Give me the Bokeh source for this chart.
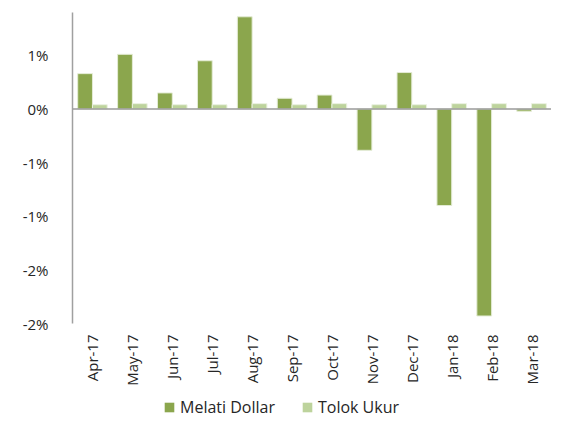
from math import pi
from bokeh.plotting import figure
from bokeh.layouts import column
from bokeh.models import ColumnDataSource, FactorRange, Range1d, Span, Legend, LegendItem, FixedTicker
from bokeh.transform import dodge
from bokeh.embed import file_html
from bokeh.resources import INLINE

months = ["Apr-17", "May-17", "Jun-17", "Jul-17", "Aug-17", "Sep-17",
          "Oct-17", "Nov-17", "Dec-17", "Jan-18", "Feb-18", "Mar-18"]
melati = [0.33, 0.51, 0.15, 0.45, 0.86, 0.10, 0.13, -0.385, 0.34, -0.90, -1.93, -0.02]
tolok = [0.04, 0.05, 0.04, 0.04, 0.05, 0.04, 0.05, 0.04, 0.04, 0.05, 0.05, 0.05]
y_ticks = [0.5, 0.0, -0.5, -1.0, -1.5, -2.0]
y_tick_labels = ["1%", "0%", "-1%", "-1%", "-2%", "-2%"]
series_names = ["Melati Dollar", "Tolok Ukur"]
series_cols = ["melati", "tolok"]
series_colors = ["#8BA64D", "#BDD39C"]

src = ColumnDataSource(dict(month=months, melati=melati, tolok=tolok))

FONT = "Open Sans"
TXT = "#262626"

p = figure(x_range=FactorRange(*months), y_range=Range1d(-2.0, 0.9),
           width=551, height=388,
           output_backend="svg", toolbar_location=None)
p.min_border_left = 72
p.min_border_right = 0
p.min_border_top = 12
p.min_border_bottom = 0
p.outline_line_color = None
p.grid.visible = False
p.background_fill_color = "white"

p.vbar(x=dodge("month", -0.185, range=p.x_range), top="melati", width=0.37,
       source=src, fill_color=series_colors[0], line_color="#E4ECD6", line_width=1)
p.vbar(x=dodge("month", 0.185, range=p.x_range), top="tolok", width=0.37,
       source=src, fill_color=series_colors[1], line_color="#EAF1E0", line_width=1)

p.add_layout(Span(location=0, dimension="width", line_color="#9A9A9A", line_width=1.5))

ya = p.yaxis[0]
ya.ticker = FixedTicker(ticks=y_ticks)
ya.major_label_overrides = {v: s for v, s in zip(y_ticks, y_tick_labels)}
ya.axis_line_color = "#A0A0A0"
ya.axis_line_width = 1.5
ya.major_tick_line_color = None
ya.minor_tick_line_color = None
ya.major_label_text_font = FONT
ya.major_label_text_font_size = "15px"
ya.major_label_text_color = TXT
ya.major_label_standoff = 18

xa = p.xaxis[0]
xa.axis_line_color = None
xa.major_tick_line_color = None
xa.minor_tick_line_color = None
xa.major_tick_out = 0
xa.major_tick_in = 0
xa.major_label_orientation = pi / 2
xa.major_label_text_font = FONT
xa.major_label_text_font_size = "15px"
xa.major_label_text_color = TXT
xa.major_label_standoff = 11

# legend strip: a small figure below the chart whose view range lies outside
# the data, so only its legend shows
lf = figure(width=551, height=33, x_range=FactorRange(*months), y_range=Range1d(10, 11),
            x_axis_type=None, y_axis_type=None,
            output_backend="svg", toolbar_location=None)
lf.min_border_left = lf.min_border_right = lf.min_border_top = lf.min_border_bottom = 0
lf.outline_line_color = None
lf.grid.visible = False
items = []
for name, colname, col in zip(series_names, series_cols, series_colors):
    r = lf.vbar(x="month", top=colname, width=0.37, source=src,
                fill_color=col, line_color=None)
    items.append(LegendItem(label=name, renderers=[r]))
legend = Legend(items=items, orientation="horizontal", location=(91, 3),
                label_text_font=FONT, label_text_font_size="16px",
                label_text_color=TXT, glyph_width=12, glyph_height=12,
                spacing=26, padding=0, margin=0, border_line_color=None,
                background_fill_alpha=0, label_standoff=5)
lf.add_layout(legend, "center")

layout = column(p, lf, spacing=0)
open("out.html", "w").write(file_html(layout, INLINE))
